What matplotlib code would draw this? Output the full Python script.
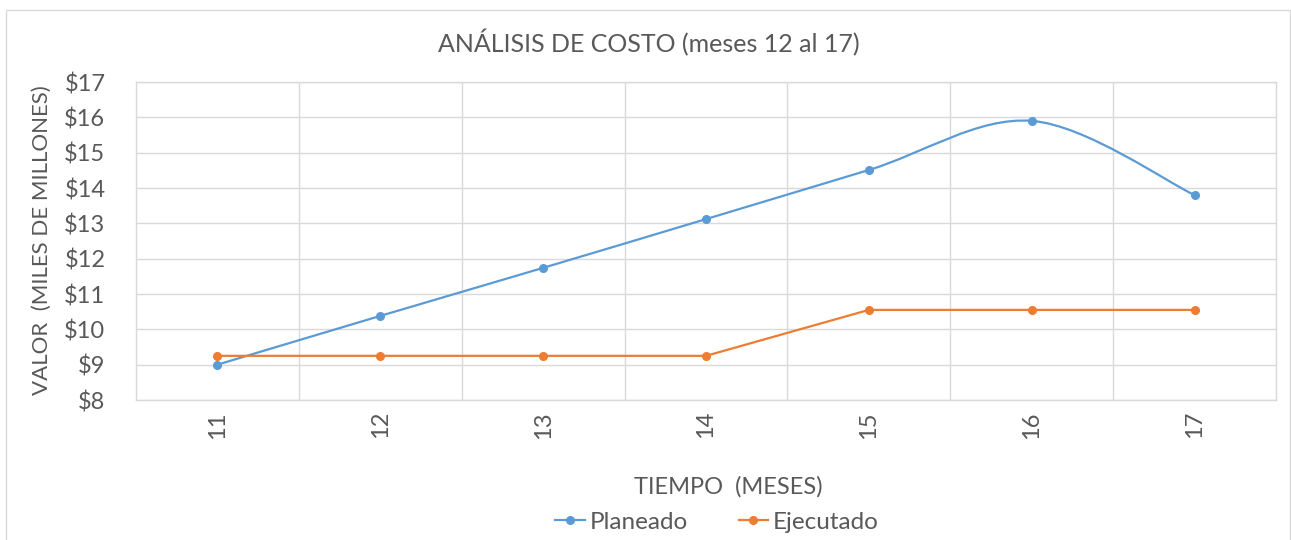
import numpy as np
import matplotlib.pyplot as plt
from matplotlib.patches import Rectangle
from matplotlib.path import Path
from matplotlib.patches import PathPatch
from matplotlib.ticker import FuncFormatter, MultipleLocator

# data
meses = [11, 12, 13, 14, 15, 16, 17]
planeado = [9.0, 10.38, 11.74, 13.12, 14.51, 15.90, 13.80]
ejecutado = [9.25, 9.25, 9.25, 9.25, 10.55, 10.55, 10.55]

azul = '#5B9BD5'
naranja = '#ED7D31'
gris = '#595959'
rejilla = '#D9D9D9'

plt.rcParams['font.family'] = ['Lato', 'DejaVu Sans']


def smoothPath(x, y):
	# bezier through the points, catmull-rom style like excel's smoothed line
	x = np.asarray(x, dtype=float)
	y = np.asarray(y, dtype=float)
	n = len(x)
	verts = [(x[0], y[0])]
	codes = [Path.MOVETO]
	for i in range(n - 1):
		i0 = max(i - 1, 0)
		i3 = min(i + 2, n - 1)
		c1 = (x[i] + (x[i + 1] - x[i0]) / 6.0, y[i] + (y[i + 1] - y[i0]) / 6.0)
		c2 = (x[i + 1] - (x[i3] - x[i]) / 6.0, y[i + 1] - (y[i3] - y[i]) / 6.0)
		verts += [c1, c2, (x[i + 1], y[i + 1])]
		codes += [Path.CURVE4] * 3
	return Path(verts, codes)


fig = plt.figure(figsize=(12.91, 5.40), dpi=100)
fig.patches.append(Rectangle((6 / 1291, -0.01), 1284 / 1291, 530 / 540 + 0.01,
	transform=fig.transFigure, fill=False, edgecolor=rejilla, linewidth=1))

ax = fig.add_axes([136 / 1291, 140 / 540, 1140 / 1291, 318 / 540])

ax.set_xlim(10.5, 17.5)
ax.set_ylim(8, 17)

ax.add_patch(PathPatch(smoothPath(meses, planeado), fill=False, edgecolor=azul, linewidth=1.6, zorder=3))
ax.plot(meses, planeado, 'o', color=azul, markersize=5.5, zorder=4)
ax.plot([], [], '-o', color=azul, linewidth=1.6, markersize=5.5, label='Planeado')
ax.plot(meses, ejecutado, '-o', color=naranja, linewidth=1.6, markersize=5.5, label='Ejecutado', zorder=3)

ax.set_xticks(meses)
ax.set_xticks([m + 0.5 for m in meses[:-1]], minor=True)
ax.yaxis.set_major_locator(MultipleLocator(1))
ax.yaxis.set_major_formatter(FuncFormatter(lambda v, p: '$%d' % v))
ax.grid(True, which='minor', axis='x', color=rejilla, linewidth=1)
ax.grid(True, which='major', axis='y', color=rejilla, linewidth=1)
ax.set_axisbelow(True)
ax.tick_params(which='both', length=0)
ax.tick_params(axis='x', labelrotation=90, pad=8, labelsize=17, labelcolor=gris)
ax.tick_params(axis='y', pad=22, labelsize=17, labelcolor=gris)
for s in ax.spines.values():
	s.set_color(rejilla)
	s.set_linewidth(1)

fig.text(649 / 1291, 1 - 43 / 540, 'ANÁLISIS DE COSTO (meses 12 al 17)', ha='center', va='center', fontsize=18, color=gris)
fig.text(42 / 1291, 1 - 240 / 540, 'VALOR  (MILES DE MILLONES)', ha='center', va='center', rotation=90, fontsize=16, color=gris)
fig.text(728 / 1291, 1 - 487 / 540, 'TIEMPO  (MESES)', ha='center', va='center', fontsize=17, color=gris)

leg = fig.legend(loc='center', bbox_to_anchor=(717 / 1291, 1 - 522 / 540), ncol=2, frameon=False,
	fontsize=17.5, handlelength=1.2, handletextpad=0.2, columnspacing=2.1, labelcolor=gris)

fig.savefig('out.png', dpi=100)
